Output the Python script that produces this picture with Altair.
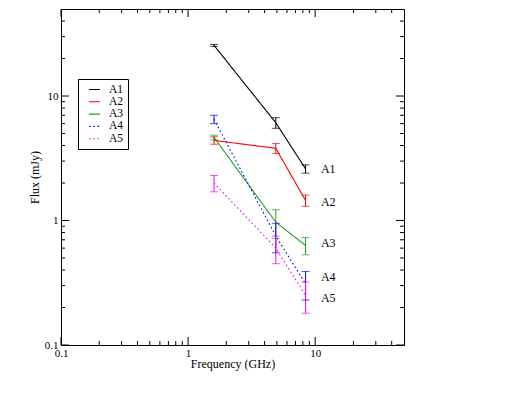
import altair as alt
import pandas as pd

# ---- data ----
series = ["A1", "A2", "A3", "A4", "A5"]
freq = [1.6, 4.9, 8.4]
flux = {
    "A1": [25.5, 6.1, 2.6],
    "A2": [4.4, 3.8, 1.45],
    "A3": [4.65, 0.97, 0.63],
    "A4": [6.5, 0.75, 0.31],
    "A5": [2.0, 0.6, 0.25],
}
err = {
    "A1": [0.45, 0.6, 0.2],
    "A2": [0.3, 0.35, 0.15],
    "A3": [0.2, 0.25, 0.1],
    "A4": [0.5, 0.2, 0.08],
    "A5": [0.3, 0.15, 0.07],
}
label_freq = 11.1
label_flux = [2.6, 1.42, 0.66, 0.35, 0.24]

colors = ["#000000", "#ff0000", "#22a022", "#0000ff", "#ff00ff"]
dashes = [[1, 0], [1, 0], [1, 0], [1.6, 2.6], [1.6, 2.6]]
widths = [1.1, 1.1, 1.1, 1.6, 1.6]

major = [0.1, 1, 10]
minor = [0.2, 0.3, 0.4, 0.5, 0.6, 0.7, 0.8, 0.9,
         2, 3, 4, 5, 6, 7, 8, 9, 20, 30, 40]

W, H = 343, 336
FONT = "Liberation Serif"

rows = []
for s in series:
    for f, v, e in zip(freq, flux[s], err[s]):
        rows.append({"series": s, "freq": f, "flux": v, "lo": v - e, "hi": v + e})
df = pd.DataFrame(rows)
lab = pd.DataFrame({"series": series, "freq": [label_freq] * 5, "flux": label_flux})

xs = alt.Scale(type="log", domain=[0.1, 50], nice=False)
ys = alt.Scale(type="log", domain=[0.1, 50], nice=False)
cscale = alt.Scale(domain=series, range=colors)
dscale = alt.Scale(domain=series, range=dashes)
wscale = alt.Scale(domain=series, range=widths)

X = alt.X("freq:Q", scale=xs,
          axis=alt.Axis(title="Frequency (GHz)", values=major, format="~g",
                        ticks=False, domain=False, grid=False, labelPadding=2,
                        titlePadding=0, labelFlush=False))
Y = alt.Y("flux:Q", scale=ys,
          axis=alt.Axis(title="Flux (mJy)", values=major, format="~g",
                        ticks=False, domain=False, grid=False, labelPadding=3,
                        titlePadding=3, labelFlush=False))

lines = alt.Chart(df).mark_line().encode(
    x=X, y=Y,
    color=alt.Color("series:N", scale=cscale,
                    legend=alt.Legend(title=None, orient="none", legendX=17, legendY=70,
                                      symbolType="stroke", symbolSize=121,
                                      symbolStrokeWidth=1.1, symbolOffset=6,
                                      labelFont=FONT,
                                      labelFontSize=11.5, labelColor="black",
                                      strokeColor="black", padding=4,
                                      rowPadding=0.3, labelOffset=8,
                                      fillColor="white")),
    strokeDash=alt.StrokeDash("series:N", scale=dscale, legend=None),
    strokeWidth=alt.StrokeWidth("series:N", scale=wscale, legend=None),
    detail="series:N",
)

bars = alt.Chart(df).mark_rule(strokeWidth=1).encode(
    x=alt.X("freq:Q", scale=xs),
    y=alt.Y("lo:Q", scale=ys),
    y2="hi:Q",
    color=alt.Color("series:N", scale=cscale, legend=None),
)
cap_lo = alt.Chart(df).mark_tick(orient="horizontal", size=8, thickness=1).encode(
    x=alt.X("freq:Q", scale=xs), y=alt.Y("lo:Q", scale=ys),
    color=alt.Color("series:N", scale=cscale, legend=None),
)
cap_hi = alt.Chart(df).mark_tick(orient="horizontal", size=8, thickness=1).encode(
    x=alt.X("freq:Q", scale=xs), y=alt.Y("hi:Q", scale=ys),
    color=alt.Color("series:N", scale=cscale, legend=None),
)

labels = alt.Chart(lab).mark_text(align="left", baseline="middle", font=FONT,
                                  fontSize=12, color="black").encode(
    x=alt.X("freq:Q", scale=xs), y=alt.Y("flux:Q", scale=ys), text="series:N")

# inside ticks on all four sides
def xticks(vals, length):
    d = pd.DataFrame({"t": vals})
    b = alt.Chart(d).mark_rule(color="black", strokeWidth=1).encode(
        x=alt.X("t:Q", scale=xs), y=alt.value(H), y2=alt.value(H - length))
    t = alt.Chart(d).mark_rule(color="black", strokeWidth=1).encode(
        x=alt.X("t:Q", scale=xs), y=alt.value(0), y2=alt.value(length))
    return [b, t]

def yticks(vals, length):
    d = pd.DataFrame({"t": vals})
    l = alt.Chart(d).mark_rule(color="black", strokeWidth=1).encode(
        y=alt.Y("t:Q", scale=ys), x=alt.value(0), x2=alt.value(length))
    r = alt.Chart(d).mark_rule(color="black", strokeWidth=1).encode(
        y=alt.Y("t:Q", scale=ys), x=alt.value(W), x2=alt.value(W - length))
    return [l, r]

tick_layers = xticks(major, 8) + xticks(minor, 4) + yticks(major, 8) + yticks(minor, 4)

chart = alt.layer(lines, bars, cap_lo, cap_hi, labels, *tick_layers).resolve_scale(
    color="shared", strokeDash="shared"
).properties(
    width=W, height=H,
    background="white",
    autosize=alt.AutoSizeParams(type="none"),
    padding={"left": 53, "top": 1, "right": 106, "bottom": 36},
).configure_view(stroke="black", strokeWidth=1).configure_axis(
    labelFont=FONT, labelFontSize=11, labelColor="black",
    titleFont=FONT, titleFontSize=12, titleFontWeight="normal", titleColor="black",
)

chart.save("out.html", embed_options={"renderer": "svg", "actions": False})
